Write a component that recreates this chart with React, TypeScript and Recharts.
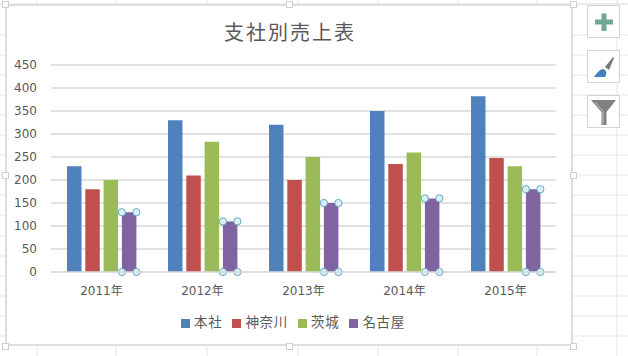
import { BarChart, Bar, XAxis, YAxis, CartesianGrid, Legend, Rectangle } from 'recharts';

const FONT = '"Noto Sans CJK JP", "Noto Sans", sans-serif';
const TICK_FONT = '"DejaVu Sans", "Noto Sans CJK JP", sans-serif';

const years = ['2011年', '2012年', '2013年', '2014年', '2015年'];
const honsha = [230, 330, 320, 350, 382];
const kanagawa = [180, 210, 200, 235, 248];
const ibaraki = [200, 283, 250, 260, 230];
const nagoya = [130, 110, 150, 160, 180];
const yTicks = [0, 50, 100, 150, 200, 250, 300, 350, 400, 450];

const data = years.map((year, i) => ({
  year,
  本社: honsha[i],
  神奈川: kanagawa[i],
  茨城: ibaraki[i],
  名古屋: nagoya[i],
}));

// worksheet cells behind the chart
const sheetRows = [35, 55, 75, 95, 115, 135, 155, 175, 195, 215, 236, 256, 276, 296, 316, 336];
const sheetCols = [37, 116, 207, 298, 378, 458, 537, 617];
const handles = [
  [5, 4], [289, 4], [573, 4],
  [5, 175], [573, 175],
  [5, 346], [289, 346], [573, 346],
];

// selected series: bar with a round handle on each corner
function SelectedBar(props: any) {
  const { x, y, width, height, fill } = props;
  const corners = [
    [x, y],
    [x + width, y],
    [x, y + height],
    [x + width, y + height],
  ];
  return (
    <g>
      <Rectangle x={x} y={y} width={width} height={height} fill={fill} />
      {corners.map(([cx, cy], i) => (
        <circle key={i} cx={cx} cy={cy} r={3.6} fill="#daf0f5" stroke="#63a9c4" strokeWidth={1} />
      ))}
    </g>
  );
}

function ToolButton({ top, children }: { top: number; children: any }) {
  return (
    <svg
      width={33}
      height={33}
      style={{ position: 'absolute', left: 587, top, background: '#fff', border: '1px solid #d4d4d4', boxSizing: 'border-box' }}
    >
      {children}
    </svg>
  );
}

export default function App() {
  return (
    <div style={{ position: 'absolute', left: 0, top: 0, width: 628, height: 356, background: '#fff', overflow: 'hidden', fontFamily: FONT }}>
      <svg width={628} height={356} style={{ position: 'absolute', left: 0, top: 0 }}>
        <line x1={0} x2={628} y1={4} y2={4} stroke="#dcdcdc" />
        {sheetRows.map((y) => (
          <line key={y} x1={0} x2={628} y1={y} y2={y} stroke="#e6e6e6" />
        ))}
        {sheetCols.map((x) => (
          <line key={x} x1={x} x2={x} y1={0} y2={356} stroke="#e6e6e6" />
        ))}
      </svg>

      <div style={{ position: 'absolute', left: 5, top: 4, width: 568, height: 342, background: '#fff', border: '2px solid #dedede', boxSizing: 'border-box' }} />

      <div style={{ position: 'absolute', left: 6, top: 5, width: 566, height: 340 }}>
        <div style={{ position: 'absolute', left: 1, top: 13, width: 566, textAlign: 'center', fontSize: 20, letterSpacing: 2, lineHeight: '28px', color: '#595959' }}>
          支社別売上表
        </div>
        <BarChart
          width={566}
          height={340}
          data={data}
          barSize={14.5}
          barGap={3.8}
          margin={{ top: 60, right: 16, bottom: 0, left: 0 }}
          style={{ fontFamily: FONT }}
        >
          <CartesianGrid vertical={false} stroke="#d9d9d9" strokeWidth={1.3} />
          <XAxis
            dataKey="year"
            axisLine={{ stroke: '#d9d9d9', strokeWidth: 1.3 }}
            tickLine={false}
            tick={{ fontSize: 12, fill: '#595959', fontFamily: TICK_FONT }}
            tickMargin={8}
            height={40}
          />
          <YAxis
            domain={[0, 450]}
            ticks={yTicks}
            interval={0}
            axisLine={false}
            tickLine={false}
            tick={{ fontSize: 12, fill: '#595959', fontFamily: TICK_FONT }}
            tickMargin={8}
            width={45}
          />
          <Legend
            iconType="square"
            iconSize={9}
            verticalAlign="bottom"
            align="center"
            height={33}
            itemSorter={null}
            wrapperStyle={{ fontSize: 13.5, letterSpacing: 0.7, marginBottom: 1, left: 17 }}
            formatter={(value: string) => <span style={{ color: '#595959' }}>{value}</span>}
          />
          <Bar dataKey="本社" fill="#4f81bd" isAnimationActive={false} />
          <Bar dataKey="神奈川" fill="#c0504d" isAnimationActive={false} />
          <Bar dataKey="茨城" fill="#9bbb59" isAnimationActive={false} />
          <Bar dataKey="名古屋" fill="#8064a2" isAnimationActive={false} shape={<SelectedBar />} />
        </BarChart>
      </div>

      {handles.map(([x, y], i) => (
        <div key={i} style={{ position: 'absolute', left: x - 3.5, top: y - 3.5, width: 7, height: 7, background: '#fff', border: '1px solid #cfcfcf', boxSizing: 'border-box' }} />
      ))}

      <ToolButton top={5}>
        <path d="M13.5 7.5h5v6h6.5v5h-6.5v6.5h-5v-6.5H7v-5h6.5z" fill="#6fa98f" />
      </ToolButton>
      <ToolButton top={50}>
        <path d="M17 16 L25 6 L26 7 L21 19z" fill="#7a7a7a" />
        <path d="M6 26 C8 24 10 19 15 18 C19 19 19 23 17 26z" fill="#3f7fc0" />
      </ToolButton>
      <ToolButton top={95}>
        <path d="M3 4h25L18.5 16v13h-5V16z" fill="#808080" />
        <path d="M7 6 L15 15.5 V28" fill="none" stroke="#c4c4c4" strokeWidth={1} />
      </ToolButton>
    </div>
  );
}
